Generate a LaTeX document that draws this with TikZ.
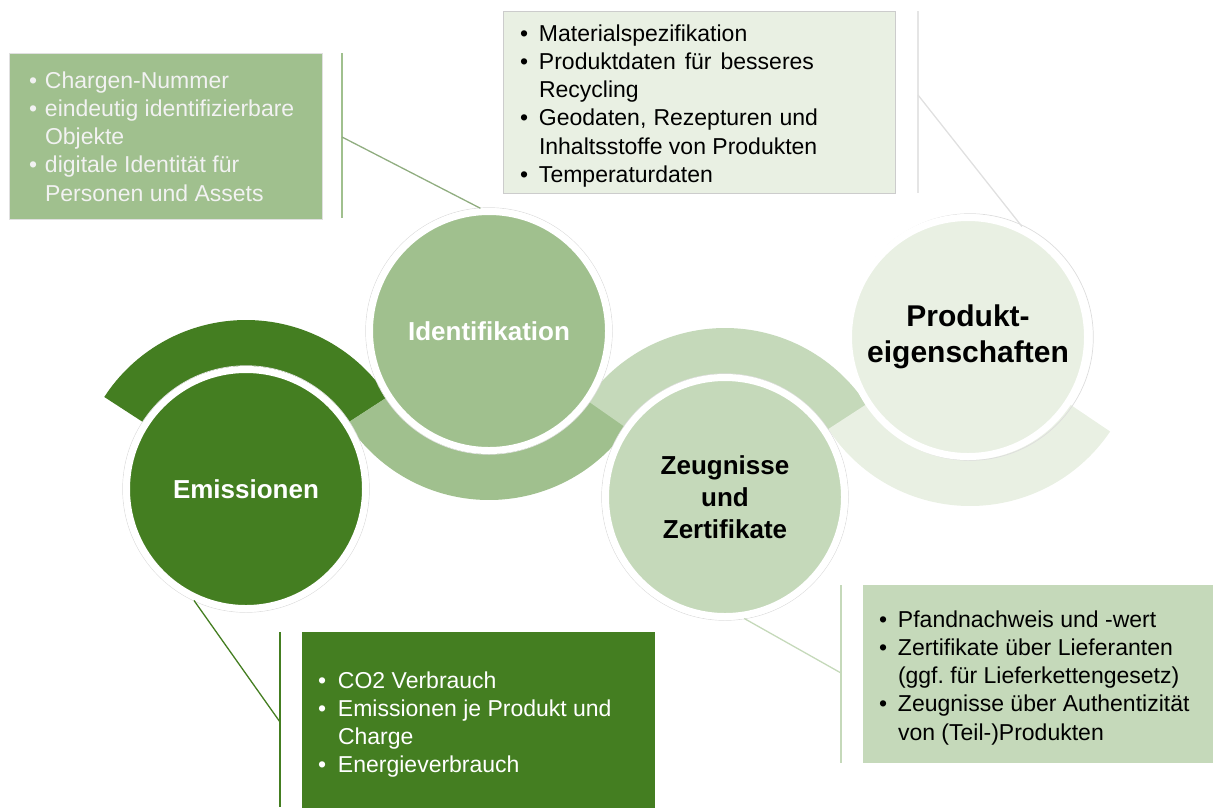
\documentclass[tikz,border=0pt]{standalone}
\usepackage{fontspec}
\setmainfont{Liberation Sans}
\usetikzlibrary{calc}
\frenchspacing
\definecolor{cDark}{HTML}{447E21}
\definecolor{cMid}{HTML}{A0C08E}
\definecolor{cLight}{HTML}{C5D9BA}
\definecolor{cPale}{HTML}{E9F0E3}
\definecolor{cRing}{HTML}{DDDDDD}
\newlength\bulw
\newcommand\bitem[1]{\makebox[\bulw][l]{\textbullet}#1\par}
\newcommand\bcont[1]{\hspace*{\bulw}#1\par}
\tikzset{
  disc/.style={circle, minimum size=239pt, inner sep=0pt, draw=white, line width=7pt, align=center},
  boxtxt/.style={anchor=base west, inner sep=0pt, outer sep=0pt},
  panel/.style={rectangle, anchor=north west, inner sep=0pt, outer sep=0pt},
  link/.style={line width=1.3pt},
  stem/.style={line width=2pt}
}
\begin{document}
\begin{tikzpicture}[x=1pt,y=1pt]
\useasboundingbox (0,-807) rectangle (1214,0);
% centres
\coordinate (pE) at (246,-489);
\coordinate (pI) at (489,-331);
\coordinate (pZ) at (725,-497);
\coordinate (pP) at (970,-337);
% bands
\fill[cDark] ($(pE)+(33:169pt)$) arc[start angle=33, end angle=147, radius=169pt] -- ($(pE)+(147:110pt)$) arc[start angle=147, end angle=33, radius=110pt] -- cycle;
\fill[cMid] ($(pI)+(213:169pt)$) arc[start angle=213, end angle=325, radius=169pt] -- ($(pI)+(325:110pt)$) arc[start angle=325, end angle=213, radius=110pt] -- cycle;
\fill[cLight] ($(pZ)+(33:169pt)$) arc[start angle=33, end angle=145, radius=169pt] -- ($(pZ)+(145:110pt)$) arc[start angle=145, end angle=33, radius=110pt] -- cycle;
\fill[cPale] ($(pP)+(213:169pt)$) arc[start angle=213, end angle=326, radius=169pt] -- ($(pP)+(326:110pt)$) arc[start angle=326, end angle=213, radius=110pt] -- cycle;
% circles
\foreach \p in {pE,pI,pZ,pP}{\draw[cRing, line width=0.7pt] (\p) circle[radius=123.3pt];}
\node[disc, fill=cDark, text=white, font=\bfseries\fontsize{26}{32}\selectfont] (E) at (pE) {Emissionen};
\node[disc, fill=cMid, text=white, font=\bfseries\fontsize{26}{32}\selectfont] (I) at (pI) {Identifikation};
\node[disc, fill=cLight, text=black, font=\bfseries\fontsize{26}{32}\selectfont] (Z) at (pZ) {Zeugnisse\\und\\Zertifikate};
\node[disc, fill=cPale, text=black, font=\bfseries\fontsize{30}{36}\selectfont] (P) at ($(pP)+(-2,0)$) {\raisebox{-3pt}{Produkt-}\\\raisebox{-3pt}{eigenschaften}};
% panels
\node[panel, fill=cMid, draw=black!12, line width=0.5pt, minimum width=313pt, minimum height=166pt] (b1) at (9,-53) {};
\node[panel, fill=cPale, draw=black!20, line width=0.6pt, minimum width=392pt, minimum height=182pt] (b2) at (503,-11) {};
\node[panel, fill=cLight, minimum width=350pt, minimum height=178pt] (b3) at (863,-585) {};
\node[panel, fill=cDark, minimum width=353pt, minimum height=176pt] (b4) at (302,-632) {};
% texts
\node[boxtxt, text=white!95!black] (t1) at (29,-88) {\parbox[t]{290pt}{\fontsize{23}{28.3}\selectfont\setlength\bulw{16pt}%
\bitem{Chargen-Nummer}\bitem{eindeutig identifizierbare}\bcont{Objekte}\bitem{digitale Identität für}\bcont{Personen und Assets}}};
\node[boxtxt, text=black] (t2) at (520,-41) {\parbox[t]{370pt}{\fontsize{23}{28.3}\selectfont\setlength\bulw{19pt}%
\bitem{Materialspezifikation}\bitem{\makebox[275pt][s]{Produktdaten für besseres}}\bcont{Recycling}\bitem{\makebox[279pt][s]{Geodaten, Rezepturen und}}\bcont{Inhaltsstoffe von Produkten}\bitem{Temperaturdaten}}};
\node[boxtxt, text=black] (t3) at (879,-627) {\parbox[t]{330pt}{\fontsize{23}{28.3}\selectfont\setlength\bulw{19pt}%
\bitem{Pfandnachweis und -wert}\bitem{Zertifikate über Lieferanten}\bcont{(ggf. für Lieferkettengesetz)}\bitem{Zeugnisse über Authentizität}\bcont{von (Teil-)Produkten}}};
\node[boxtxt, text=white] (t4) at (318,-688) {\parbox[t]{330pt}{\fontsize{23}{28.3}\selectfont\setlength\bulw{20pt}%
\bitem{CO2 Verbrauch}\bitem{Emissionen je Produkt und}\bcont{Charge}\bitem{Energieverbrauch}}};
% stems and links
\coordinate (s1t) at (342,-53); \coordinate (s1b) at (342,-218); \coordinate (s1m) at (342,-137);
\coordinate (s2t) at (918,-11); \coordinate (s2b) at (918,-193); \coordinate (s2m) at (918,-95);
\coordinate (s3t) at (841,-585); \coordinate (s3b) at (841,-763); \coordinate (s3m) at (841,-673);
\coordinate (s4t) at (280,-632); \coordinate (s4b) at (280,-807); \coordinate (s4m) at (280,-722);
\draw[stem, cMid] (s1t) -- (s1b);
\draw[stem, black!10] (s2t) -- (s2b);
\draw[stem, cLight] (s3t) -- (s3b);
\draw[stem, cDark] (s4t) -- (s4b);
\draw[link, cMid!90!black] (s1m) -- (I.94);
\draw[link, black!12] (s2m) -- (P.64);
\draw[link, cLight] (s3m) -- (Z.-81);
\draw[link, cDark] (s4m) -- (E.245);
\end{tikzpicture}
\end{document}
